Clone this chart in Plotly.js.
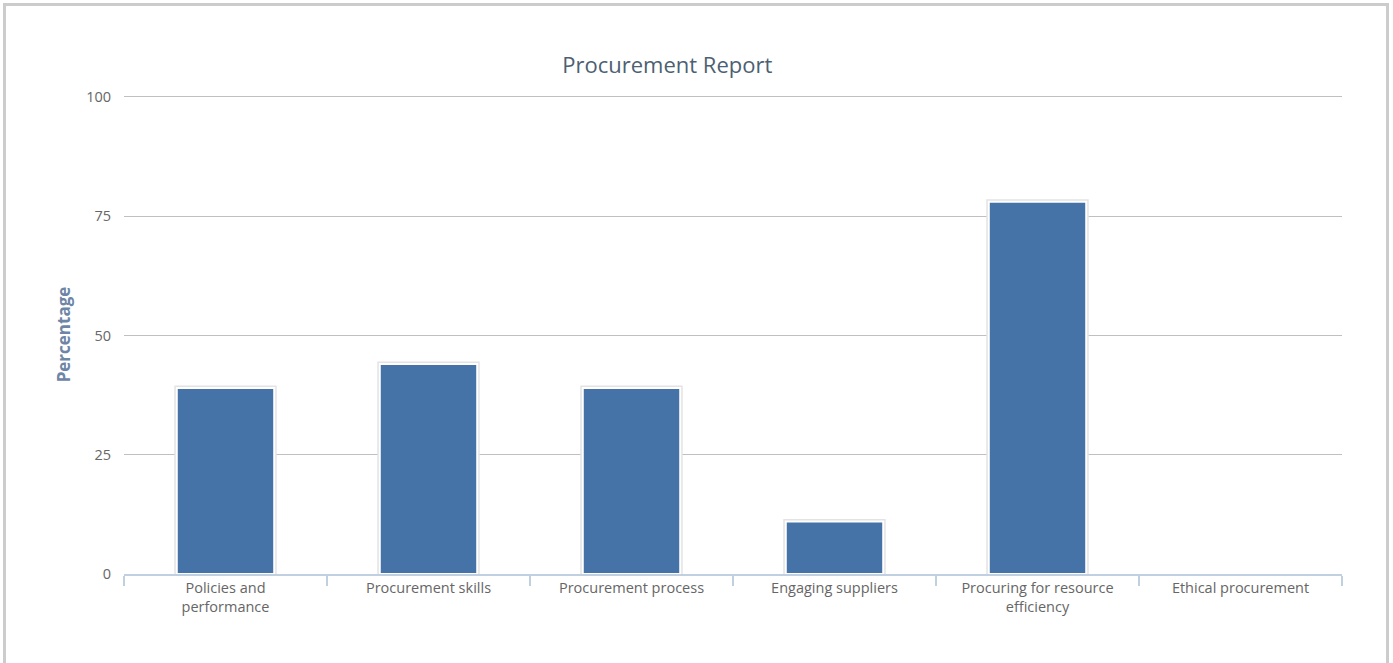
<!DOCTYPE html>
<html>
<head>
<meta charset="utf-8">
<script src="https://cdn.plot.ly/plotly-3.0.1.min.js"></script>
<style>
html,body{margin:0;padding:0;background:#fff;}
#chart{width:1393px;height:663px;}
#frame{position:absolute;left:3px;top:3px;width:1380px;height:680px;border:3px solid #cccccc;pointer-events:none;}
</style>
</head>
<body>
<div id="chart"></div>
<div id="frame"></div>
<script>
const categories = ["Policies and<br>performance", "Procurement skills", "Procurement process", "Engaging suppliers", "Procuring for resource<br>efficiency", "Ethical procurement"];
const values = [39, 44, 39, 11, 78, 0];
const yTicks = [0, 25, 50, 75, 100];

const font = "'Open Sans', 'Noto Sans', sans-serif";

const shadow = {
  type: 'bar', x: categories, y: values, width: 0.48,
  marker: {color: '#4572a7', line: {color: '#e3e3e3', width: values.map(v => v > 0 ? 5 : 0)}},
  hoverinfo: 'skip', showlegend: false
};
const bars = {
  type: 'bar', x: categories, y: values, width: 0.48,
  marker: {color: '#4572a7', line: {color: '#ffffff', width: values.map(v => v > 0 ? 2 : 0)}},
  showlegend: false
};

const layout = {
  width: 1393, height: 663,
  margin: {l: 124, r: 51, t: 95, b: 89},
  paper_bgcolor: '#ffffff', plot_bgcolor: '#ffffff',
  barmode: 'overlay',
  title: {text: 'Procurement Report', x: 0.479, xanchor: 'center', y: 0.902, yanchor: 'middle',
          font: {family: font, size: 22, color: '#4d5f73'}},
  xaxis: {
    type: 'category', tickson: 'boundaries', ticks: 'outside', ticklen: 10, tickwidth: 2,
    tickcolor: '#c0d0e0', showline: true, linecolor: '#c0d0e0', linewidth: 2,
    showgrid: false, tickfont: {family: font, size: 14.5, color: '#666666'},
    fixedrange: true
  },
  yaxis: {
    range: [0, 100.4], tickvals: yTicks, ticktext: yTicks.map(String),
    showgrid: true, gridcolor: '#c0c0c0', gridwidth: 1, zeroline: false,
    ticks: 'outside', ticklen: 9, tickcolor: 'rgba(0,0,0,0)', tickfont: {family: font, size: 14.5, color: '#666666'},
    title: {text: '<b>Percentage</b>', standoff: 11, font: {family: font, size: 17, color: '#6d86a6'}},
    fixedrange: true
  },
  font: {family: font}
};

Plotly.newPlot('chart', [shadow, bars], layout, {displayModeBar: false, staticPlot: true});
</script>
</body>
</html>
